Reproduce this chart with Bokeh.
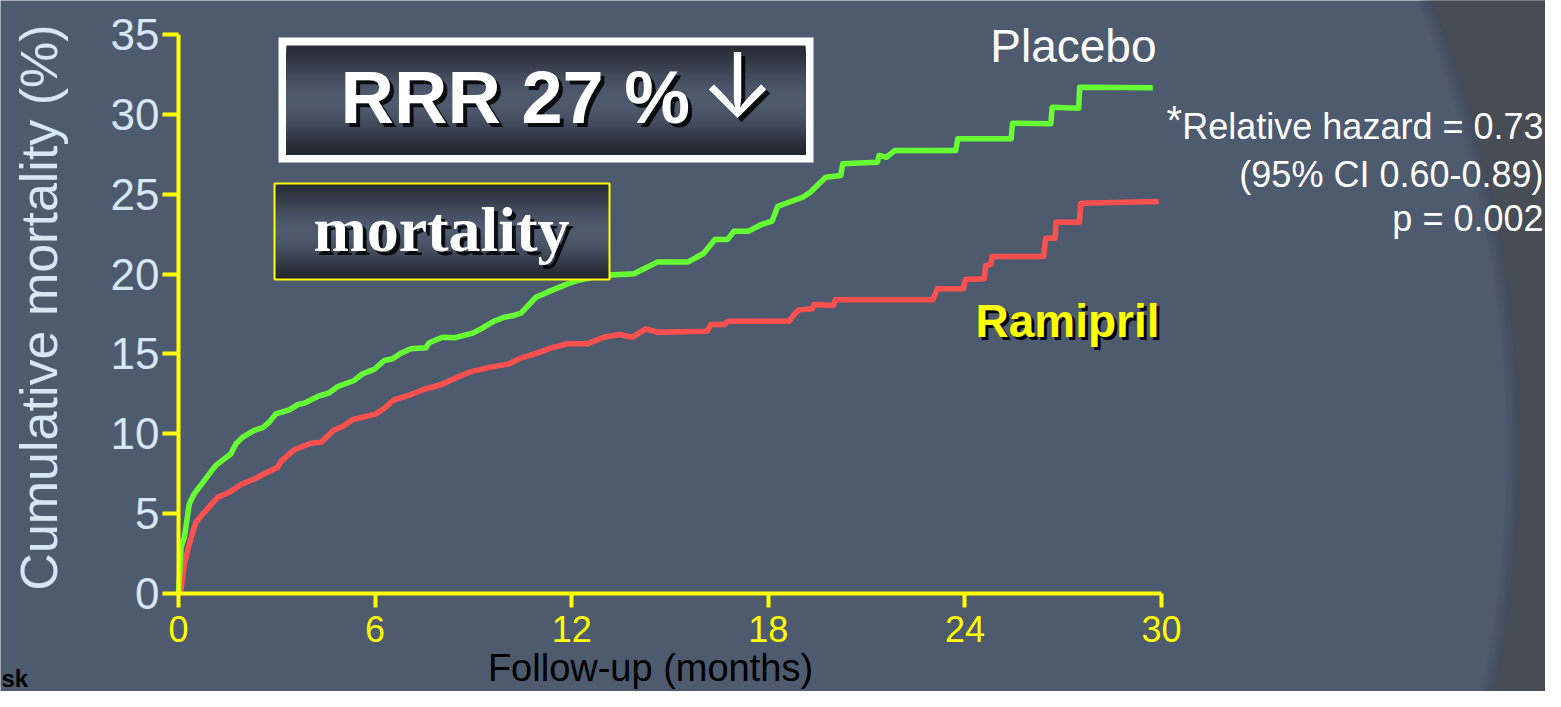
import numpy as np
from bokeh.plotting import figure
from bokeh.models import Range1d, FixedTicker
from bokeh.embed import file_html
from bokeh.resources import INLINE
from bokeh.core.properties import value

# ---------------- data ----------------
placebo_month = [0, 0.08, 0.18, 0.33, 0.48, 0.79, 1.14, 1.40, 1.60, 1.75, 1.96, 2.31, 2.57, 2.77, 2.97,
                 3.38, 3.64, 3.84, 4.25, 4.60, 4.86, 5.36, 5.62, 5.97, 6.28, 6.53, 6.79, 7.09, 7.55, 7.65,
                 8.06, 8.41, 8.98, 9.23, 9.63, 9.94, 10.24, 10.45, 10.91, 11.26, 11.87, 12.18, 12.89, 13.90,
                 14.61, 15.54, 16.02, 16.37, 16.76, 16.95, 17.40, 17.77, 18.11, 18.29, 19.05, 19.28, 19.75,
                 20.21, 20.27, 21.33, 21.38, 21.61, 21.86, 23.72, 23.78, 25.41, 25.45, 26.62, 26.66, 27.47,
                 27.50, 29.73]
placebo_pct = [0, 2.90, 3.53, 5.62, 6.24, 7.08, 8.02, 8.43, 8.75, 9.37, 9.79, 10.21, 10.38, 10.73, 11.25,
               11.50, 11.83, 11.92, 12.34, 12.57, 12.96, 13.34, 13.76, 14.03, 14.59, 14.70, 15.05, 15.32,
               15.39, 15.70, 16.05, 16.01, 16.30, 16.57, 17.05, 17.30, 17.41, 17.55, 18.55, 18.87, 19.39,
               19.60, 19.91, 20.02, 20.75, 20.75, 21.29, 22.17, 22.17, 22.69, 22.69, 23.09, 23.31, 24.25,
               24.81, 25.13, 26.07, 26.17, 26.91, 27.01, 27.43, 27.32, 27.74, 27.74, 28.47, 28.47, 29.45,
               29.41, 30.45, 30.39, 31.70, 31.67]

ramipril_month = [0, 0.08, 0.18, 0.33, 0.53, 0.79, 1.20, 1.55, 1.91, 2.36, 2.62, 3.03, 3.13, 3.53, 4.04,
                  4.35, 4.75, 5.01, 5.31, 6.03, 6.28, 6.58, 7.09, 7.55, 8.01, 8.41, 8.87, 9.43, 10.09, 10.40,
                  10.96, 11.36, 11.87, 12.48, 12.99, 13.45, 13.86, 14.26, 14.62, 16.13, 16.24, 16.66, 16.77,
                  18.64, 18.76, 18.93, 19.34, 19.40, 19.98, 20.04, 23.02, 23.16, 23.95, 24.01, 24.59, 24.63,
                  24.79, 24.83, 26.40, 26.46, 26.75, 26.78, 27.49, 27.53, 29.91]
ramipril_pct = [0, 0.29, 1.86, 3.11, 4.46, 5.09, 6.03, 6.34, 6.83, 7.22, 7.50, 7.91, 8.27, 9.00, 9.41,
                9.47, 10.25, 10.46, 10.88, 11.25, 11.60, 12.13, 12.46, 12.82, 13.07, 13.44, 13.86, 14.13,
                14.38, 14.70, 15.07, 15.36, 15.64, 15.64, 16.05, 16.22, 16.05, 16.57, 16.36, 16.42, 16.84,
                16.84, 17.05, 17.05, 17.41, 17.76, 17.83, 18.10, 18.03, 18.39, 18.39, 19.08, 19.08, 19.66,
                19.71, 20.54, 20.60, 21.10, 21.10, 22.25, 22.25, 23.25, 23.25, 24.44, 24.55]

x_ticks = [0, 6, 12, 18, 24, 30]
y_ticks = [0, 5, 10, 15, 20, 25, 30, 35]

# ---------------- style / geometry ----------------
BG = "#4e5a6d"
DARK = "#474c55"
YELLOW = "#ffff00"
GREEN = "#66ff33"
RED = "#ff5050"
LIGHTBLUE = "#d6e6f5"

W, H = 1545, 691
X0, Y0 = 178, 593       # pixel of (0 months, 0 %)
PXM = 32.77             # pixels per month
PXP = 15.97             # pixels per percent
BASE_SHIFT = 0.37       # renderer places alphabetic baselines ~0.37em lower


def mx(px):
    """pixel x -> months"""
    return (np.asarray(px, dtype=float) - X0) / PXM


def my(py):
    """pixel y -> percent"""
    return (Y0 - np.asarray(py, dtype=float)) / PXP


def base(py, fs):
    """data y for a text whose baseline should sit at pixel py"""
    return float(my(py - BASE_SHIFT * fs))


p = figure(width=W, height=H, output_backend="svg", toolbar_location=None,
           x_range=Range1d(float(mx(0)), float(mx(W))), y_range=Range1d(float(my(H)), float(my(0))),
           min_border=0, min_border_left=0, min_border_right=0, min_border_top=0, min_border_bottom=0,
           background_fill_color=BG, border_fill_color=BG, outline_line_color=None)
p.xgrid.visible = False
p.ygrid.visible = False

# ---------------- slide background: darker region beyond arc ----------------
CX, CY, R = 323, 450, 1195
ys_pix = np.linspace(-10, 720, 90)
arc_x = CX + np.sqrt(R ** 2 - (ys_pix - CY) ** 2)
p.patch(list(mx(arc_x)) + [float(mx(1700)), float(mx(1700))],
        list(my(ys_pix)) + [float(my(720)), float(my(-10))],
        fill_color=DARK, line_color=None)
for k in range(4):
    rr = R - 3 * (k + 1)
    ax_in = CX + np.sqrt(rr ** 2 - (ys_pix - CY) ** 2)
    p.patch(list(mx(ax_in)) + list(mx(arc_x))[::-1], list(my(ys_pix)) + list(my(ys_pix))[::-1],
            fill_color="#3b465a", fill_alpha=0.18, line_color=None)

# ---------------- axes (fixed at the origin) ----------------
p.xaxis.fixed_location = 0
p.yaxis.fixed_location = 0
p.xaxis.ticker = FixedTicker(ticks=x_ticks)
p.xaxis.bounds = (0, 30)
p.yaxis.ticker = FixedTicker(ticks=y_ticks)
p.yaxis.bounds = (0, 35)
for ax in (p.xaxis, p.yaxis):
    ax.axis_line_color = YELLOW
    ax.axis_line_width = 4
    ax.major_tick_line_color = YELLOW
    ax.major_tick_line_width = 4
    ax.major_tick_in = 0
    ax.minor_tick_line_color = None
    ax.major_label_text_font = "Liberation Sans"
p.xaxis.major_tick_out = 14
p.xaxis.major_label_standoff = 8
p.xaxis.major_label_text_color = YELLOW
p.xaxis.major_label_text_font_size = "36px"
p.yaxis.major_tick_out = 16
p.yaxis.major_label_standoff = 3
p.yaxis.major_label_text_color = LIGHTBLUE
p.yaxis.major_label_text_font_size = "44px"

SANS = value("Liberation Sans")
SERIF = value("Liberation Serif")

# axis titles
p.text(x=[float(mx(38))], y=[float(my(307))], text=["Cumulative mortality (%)"], text_font=SANS,
       text_font_size="52px", text_color=LIGHTBLUE, text_align="center", text_baseline="middle",
       angle=np.pi / 2)
p.text(x=[float(mx(650))], y=[base(682, 38)], text=["Follow-up (months)"], text_font=SANS,
       text_font_size="38px", text_color="black", text_align="center", text_baseline="alphabetic")
p.text(x=[float(mx(1))], y=[base(687, 24)], text=["sk"], text_font=SANS, text_font_size="24px",
       text_font_style="bold", text_color="black", text_align="left", text_baseline="alphabetic")

# ---------------- curves ----------------
p.line(ramipril_month, ramipril_pct, line_color=RED, line_width=5.5, line_join="round")
p.line(placebo_month, placebo_pct, line_color=GREEN, line_width=5.5, line_join="round")


# ---------------- gradient boxes ----------------
def gradient_box(x0, y0, x1, y1, n=60):
    t = (np.arange(n) + 0.5) / n
    f = np.sin(np.pi * t) ** 1.4
    top = np.array([0x27, 0x2b, 0x36])
    bot = np.array([0x22, 0x26, 0x2e])
    light = np.array([0x4e, 0x5a, 0x6e])
    cols = []
    for ti, fi in zip(t, f):
        dark = top * (1 - ti) + bot * ti
        c = dark + (light - dark) * fi
        cols.append("#%02x%02x%02x" % tuple(int(round(v)) for v in c))
    edges = np.linspace(y0, y1, n + 1)
    p.quad(left=[float(mx(x0))] * n, right=[float(mx(x1))] * n,
           top=list(my(edges[:-1])), bottom=[float(my(y1))] * n,
           fill_color=cols, line_color=None)


# RRR box: white frame + gradient
p.quad(left=[float(mx(278))], right=[float(mx(813))], top=[float(my(37))], bottom=[float(my(162))],
       fill_color="white", line_color=None)
gradient_box(286, 45, 805, 154)
# mortality box: gradient + yellow outline
gradient_box(274, 183, 609, 279)
p.quad(left=[float(mx(274))], right=[float(mx(609))], top=[float(my(183))], bottom=[float(my(279))],
       fill_color=None, line_color=YELLOW, line_width=2)

# RRR text with shadow
for off, col, alpha in [(4, "black", 0.85), (0, "white", 1.0)]:
    p.text(x=[float(mx(340))], y=[base(124, 74)], text=["RRR 27 %"], text_font=SANS,
           text_font_size="74px", text_font_style="bold", text_color=col, text_alpha=alpha,
           text_align="left", text_baseline="alphabetic", x_offset=off, y_offset=off)
    p.text(x=[float(mx(737))], y=[base(117, 90)], text=["\u2193"], text_font=value("Inter"),
           text_font_size="90px", text_color=col, text_alpha=alpha,
           text_align="center", text_baseline="alphabetic", x_offset=off, y_offset=off)
# mortality text with shadow
for off, col, alpha in [(4, "black", 0.85), (0, "white", 1.0)]:
    p.text(x=[float(mx(441))], y=[base(253, 64)], text=["mortality"], text_font=SERIF,
           text_font_size="64px", text_font_style="bold", text_color=col, text_alpha=alpha,
           text_align="center", text_baseline="alphabetic", x_offset=off, y_offset=off)

# series labels
p.text(x=[float(mx(1156))], y=[base(63, 46)], text=["Placebo"], text_font=SANS, text_font_size="46px",
       text_color="white", text_align="right", text_baseline="alphabetic")
for off, col in [(3, "black"), (0, YELLOW)]:
    p.text(x=[float(mx(1159))], y=[base(338, 46)], text=["Ramipril"], text_font=SANS,
           text_font_size="46px", text_font_style="bold", text_color=col, text_align="right",
           text_baseline="alphabetic", x_offset=off, y_offset=off)

# statistics
RIGHT_EDGE = 1543
p.text(x=[float(mx(1166))], y=[base(134, 40)], text=["*"], text_font=SANS, text_font_size="40px",
       text_color="white", text_align="left", text_baseline="alphabetic")
p.text(x=[float(mx(RIGHT_EDGE))] * 3, y=[base(139, 36), base(187, 36), base(231, 36)],
       text=["Relative hazard = 0.73", "(95% CI 0.60-0.89)", "p = 0.002"],
       text_font=SANS, text_font_size="36px", text_color="white",
       text_align="right", text_baseline="alphabetic")

open("out.html", "w").write(file_html(p, INLINE))
